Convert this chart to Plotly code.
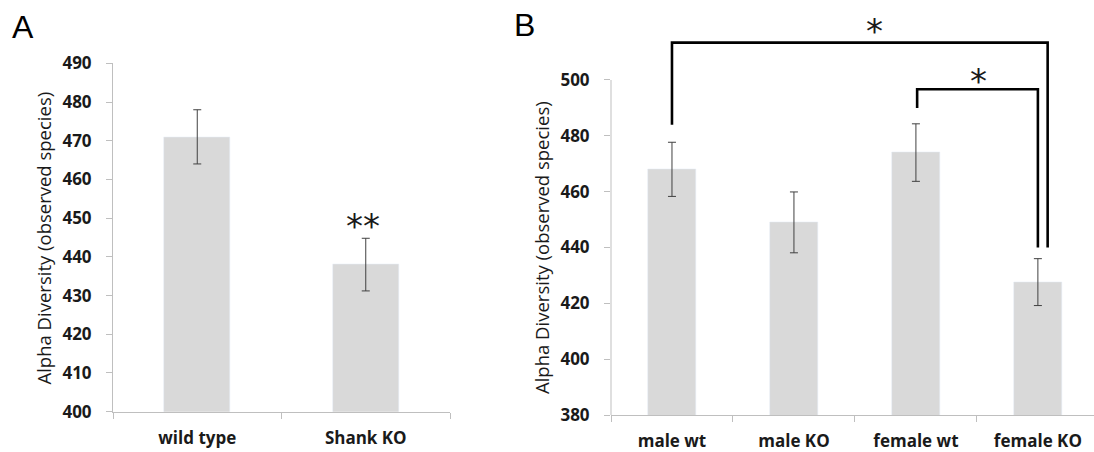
import plotly.graph_objects as go

# ---- Data ----
a_categories = ["wild type", "Shank KO"]
a_values = [471, 438]
a_errors = [7, 6.8]
a_ticks = [400, 410, 420, 430, 440, 450, 460, 470, 480, 490]

b_categories = ["male wt", "male KO", "female wt", "female KO"]
b_values = [468, 449, 474, 427.6]
b_errors = [9.7, 10.9, 10.3, 8.4]
b_ticks = [380, 400, 420, 440, 460, 480, 500]

# significance brackets (B): left x, right x, top y, left end y, right end y
br_left = [0, 2.01]
br_right = [3.08, 3.0]
br_top = [513.4, 496.7]
br_left_end = [484, 490]
br_right_end = [440, 440]
br_star_x = [1.66, 2.51]
br_star_y = [519.8, 501]

a_star_y = 448.8

ytitle = "Alpha Diversity (observed species)"

W, H = 1094, 452
BAR = "#d9d9d9"
AX = "#bfbfbf"
ERR = "#404040"
FONT = "Open Sans"

fig = go.Figure()
fig.add_trace(go.Bar(x=a_categories, y=a_values, width=0.39, marker_color=BAR,
                     error_y=dict(type="data", array=a_errors, color=ERR, thickness=1, width=4),
                     xaxis="x", yaxis="y", showlegend=False))
fig.add_trace(go.Bar(x=b_categories, y=b_values, width=0.40, marker_color=BAR,
                     error_y=dict(type="data", array=b_errors, color=ERR, thickness=1, width=4),
                     xaxis="x2", yaxis="y2", showlegend=False))

tickfont = dict(family=FONT, size=17, color="#1a1a1a", weight="bold")

common_x = dict(type="category", showline=True, linecolor=AX, linewidth=1, ticks="outside",
                tickson="boundaries", ticklen=6, tickcolor=AX, showgrid=False, zeroline=False,
                tickfont=tickfont, ticklabelstandoff=11, fixedrange=True, automargin=False)
common_y = dict(ticks="outside", ticklen=6, tickcolor=AX, showgrid=False, zeroline=False,
                tickfont=tickfont, ticklabelstandoff=11, fixedrange=True, automargin=False)

fig.update_layout(
    width=W, height=H, margin=dict(l=0, r=0, t=0, b=0, pad=0, autoexpand=False),
    paper_bgcolor="white", plot_bgcolor="white", bargap=0, showlegend=False,
    xaxis=dict(domain=[113 / W, 450 / W], range=[-0.5, 1.5], anchor="y", **common_x),
    yaxis=dict(domain=[(H - 411.7) / H, (H - 63.3) / H], range=[400, 490], tickvals=a_ticks,
               showline=True, linecolor=AX, linewidth=1, anchor="x", **common_y),
    xaxis2=dict(domain=[611 / W, 1.0], range=[-0.5, 3.46], anchor="y2", **common_x),
    yaxis2=dict(domain=[(H - 415) / H, (H - 10.2) / H], range=[380, 525], tickvals=b_ticks,
                showline=False, anchor="x2", **common_y),
)

shapes = [dict(type="line", xref="x2 domain", yref="y2", x0=0, x1=0, y0=b_ticks[0], y1=b_ticks[-1],
               line=dict(color=AX, width=1))]
for i in range(len(br_left)):
    path = (f"M {br_left[i]},{br_left_end[i]} L {br_left[i]},{br_top[i]} "
            f"L {br_right[i]},{br_top[i]} L {br_right[i]},{br_right_end[i]}")
    shapes.append(dict(type="path", xref="x2", yref="y2", path=path,
                       line=dict(color="black", width=2.6)))
fig.update_layout(shapes=shapes)

C = dict(xanchor="center", yanchor="middle", showarrow=False)
ann = []
ann.append(dict(text=ytitle, xref="paper", yref="paper", x=43 / W, y=(H - 238.5) / H,
                textangle=-90, font=dict(family=FONT, size=18.5, color="#1a1a1a"), **C))
ann.append(dict(text=ytitle, xref="paper", yref="paper", x=542 / W, y=(H - 248) / H,
                textangle=-90, font=dict(family=FONT, size=18.5, color="#1a1a1a"), **C))
ann.append(dict(text="A", xref="paper", yref="paper", x=23 / W, y=(H - 27) / H,
                font=dict(family="Liberation Sans", size=32, color="black"), **C))
ann.append(dict(text="B", xref="paper", yref="paper", x=524 / W, y=(H - 25) / H,
                font=dict(family="Liberation Sans", size=32, color="black"), **C))
ann.append(dict(text="**", xref="x", yref="y", x=1, y=a_star_y, yshift=-3, xshift=-3,
                font=dict(family="DejaVu Sans", size=34, color="#1a1a1a"), **C))
star_shift = [-6, -4]
for i in range(len(br_star_x)):
    ann.append(dict(text="*", xref="x2", yref="y2", x=br_star_x[i], y=br_star_y[i], yshift=star_shift[i],
                    font=dict(family="DejaVu Sans", size=34, color="#1a1a1a"), **C))
fig.update_layout(annotations=ann)

fig.write_html("out.html", config={"displayModeBar": False},
               post_script="document.body.style.margin='0';document.body.style.padding='0';")
